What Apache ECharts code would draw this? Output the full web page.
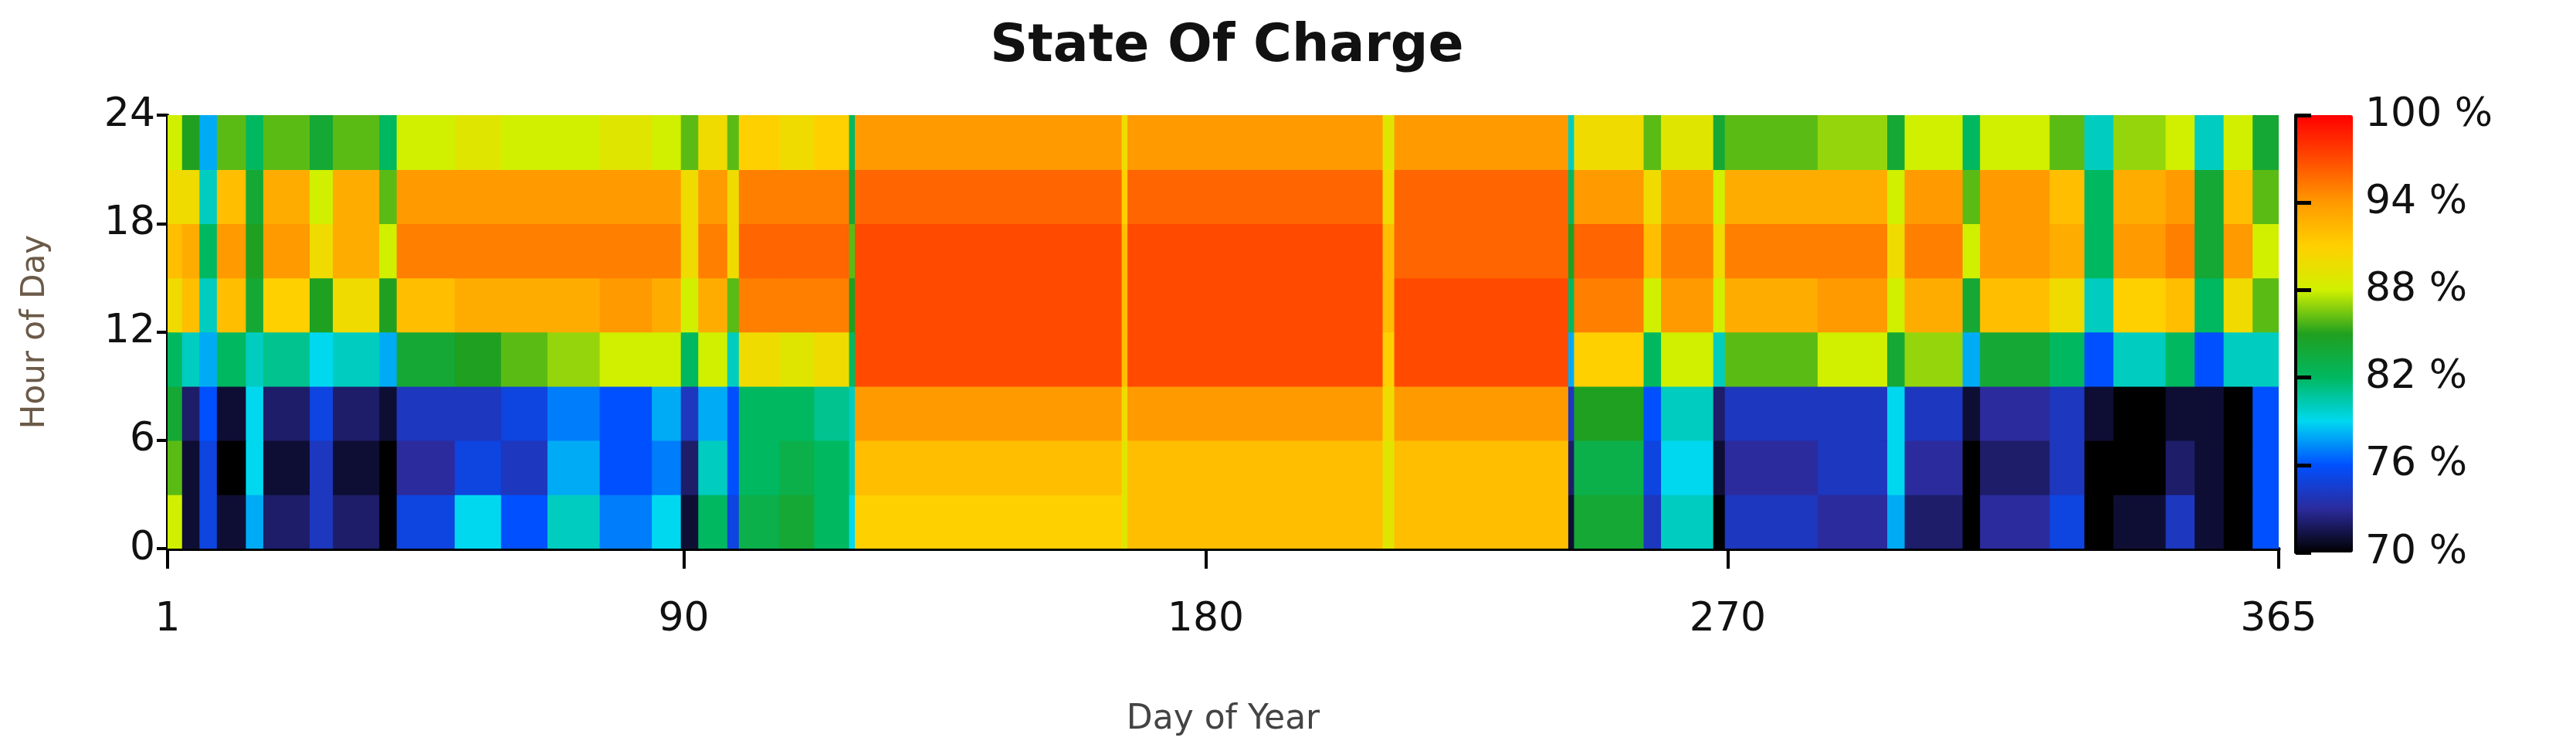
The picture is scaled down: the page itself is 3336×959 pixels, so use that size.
<!DOCTYPE html>
<html>
<head>
<meta charset="utf-8">
<script src="https://cdn.jsdelivr.net/npm/echarts@6/dist/echarts.min.js"></script>
<style>html,body{margin:0;background:#fff}#soc{width:3336px;height:959px}</style>
</head>
<body>
<div id="soc"></div>
<script>
// day blocks (first / last day of year) and SOC (%) per 3-hour band
var blockStart = [1,4,7,10,15,18,26,30,38,41,51,59,67,76,85,90,93,98,100,107,113,119,120,166,167,211,213,243,244,256,259,268,270,286,298,301,311,314,326,332,337,346,351,356,361];
var blockEnd   = [3,6,9,14,17,25,29,37,40,50,58,66,75,84,89,92,97,99,106,112,118,119,165,166,210,212,242,243,255,258,267,269,285,297,300,310,313,325,331,336,345,350,355,360,365];
var h00 = [88,71,75,71,78,72,74,72,70,75,79,76,80,77,79,71,82,75,83,84,82,79,91,89,92,89,92,71,84,74,80,70,74,73,78,72,70,73,75,70,71,74,71,70,76];
var h03 = [86,71,75,70,79,71,74,71,70,73,75,74,78,76,77,72,80,76,82,83,82,80,92,89,92,89,92,72,83,75,79,71,73,74,79,73,70,72,74,70,70,72,71,70,76];
var h06 = [84,72,76,71,79,72,75,72,71,74,74,75,77,76,78,74,78,76,82,82,81,80,94,90,94,90,94,74,85,76,80,72,74,74,79,74,71,73,74,71,70,71,71,70,76];
var h09 = [82,80,78,82,80,81,79,80,78,84,85,86,87,88,88,82,88,80,90,89,90,82,97,92,97,91,97,78,91,82,88,80,86,88,84,87,78,84,82,76,80,82,76,80,80];
var h12 = [90,92,80,92,84,91,85,90,85,92,93,93,93,94,93,88,93,86,95,95,95,85,97,92,97,92,97,82,95,88,94,88,93,94,88,93,84,92,90,80,91,92,82,90,86];
var h15 = [92,93,82,94,85,94,90,93,88,95,95,95,95,95,95,90,95,90,96,96,96,86,97,92,97,92,96,85,96,92,95,90,95,95,90,95,88,94,93,82,94,95,84,94,88];
var h18 = [90,90,80,92,84,93,88,93,86,94,94,94,94,94,94,90,94,90,95,95,95,84,96,91,96,90,96,82,94,90,94,88,93,93,88,94,86,94,92,82,93,94,84,92,86];
var h21 = [88,85,78,86,82,86,84,86,82,88,89,88,88,89,88,86,90,86,91,90,91,82,94,90,94,89,94,80,90,86,89,84,86,87,84,88,82,88,86,80,87,88,80,88,84];
var bandStarts = [0,3,6,9,12,15,18,21];
var dayTicks = [1,90,180,270,365];

var bands = [h00,h03,h06,h09,h12,h15,h18,h21];
var cells = [];
for (var b = 0; b < bands.length; b++) {
    for (var i = 0; i < blockStart.length; i++) {
        cells.push([blockStart[i] === 1 ? 1 : blockStart[i] - 0.5, Math.min(blockEnd[i] + 0.5, 365), bandStarts[b], bandStarts[b] + 3, bands[b][i]]);
    }
}

var chart = echarts.init(document.getElementById('soc'));
var font = 'DejaVu Sans';
chart.setOption({
    animation: false,
    textStyle: {fontFamily: font},
    title: {text: 'State Of Charge', left: 1584, top: 22, textAlign: 'center',
        textStyle: {fontSize: 68, fontWeight: 'bold', color: '#111', fontFamily: font}},
    grid: [
        {left: 217, top: 149, width: 2734, height: 566},
        {left: 2973, top: 149, width: 74, height: 566}
    ],
    xAxis: [{
        type: 'value', min: 1, max: 365, gridIndex: 0, offset: 28,
        name: 'Day of Year', nameLocation: 'middle', nameGap: 172,
        nameTextStyle: {fontSize: 44, color: '#444'},
        axisLine: {lineStyle: {color: '#000', width: 5}},
        axisTick: {customValues: dayTicks, length: 26, lineStyle: {color: '#000', width: 4}},
        axisLabel: {customValues: dayTicks, fontSize: 52, color: '#111', margin: 38},
        splitLine: {show: false}
    }, {
        type: 'value', gridIndex: 1, show: false, min: 0, max: 1
    }],
    yAxis: [{
        type: 'value', min: 0, max: 24, interval: 6, gridIndex: 0,
        name: 'Hour of Day', nameLocation: 'middle', nameGap: 150,
        nameTextStyle: {fontSize: 42, color: '#6b5a48'},
        axisLine: {show: true, lineStyle: {color: '#000', width: 4}},
        axisTick: {show: true, length: 14, lineStyle: {color: '#000', width: 4}},
        axisLabel: {fontSize: 52, color: '#111', margin: 16},
        splitLine: {show: false}
    }, {
        type: 'value', min: 70, max: 100, interval: 6, gridIndex: 1, position: 'right', z: 10,
        axisLine: {show: true, lineStyle: {color: '#000', width: 4}},
        axisTick: {show: true, length: 20, lineStyle: {color: '#000', width: 5}},
        axisLabel: {fontSize: 52, color: '#111', margin: 16, formatter: '{value} %'},
        splitLine: {show: false}
    }],
    visualMap: {
        type: 'continuous', min: 70, max: 100, dimension: 4, seriesIndex: 0,
        left: 2973, top: 149, itemWidth: 74, itemHeight: 566, padding: 0, z: 1,
        calculable: false, text: null, showLabel: false, textStyle: {color: 'transparent'},
        inRange: {color: ['#000000','#2b2b9e','#0050ff','#00d8f0','#00b860','#20a020','#d0f000','#ffd000','#ff9a00','#ff4a00','#ff0000']}
    },
    series: [{
        type: 'custom', xAxisIndex: 0, yAxisIndex: 0, clip: true,
        data: cells,
        encode: {x: [0, 1], y: [2, 3]},
        renderItem: function (params, api) {
            var p0 = api.coord([api.value(0), api.value(3)]);
            var p1 = api.coord([api.value(1), api.value(2)]);
            return {
                type: 'rect',
                shape: {x: p0[0], y: p0[1], width: p1[0] - p0[0] + 0.8, height: p1[1] - p0[1] + 0.8},
                style: {fill: api.visual('color')}
            };
        }
    }]
});
</script>
</body>
</html>
